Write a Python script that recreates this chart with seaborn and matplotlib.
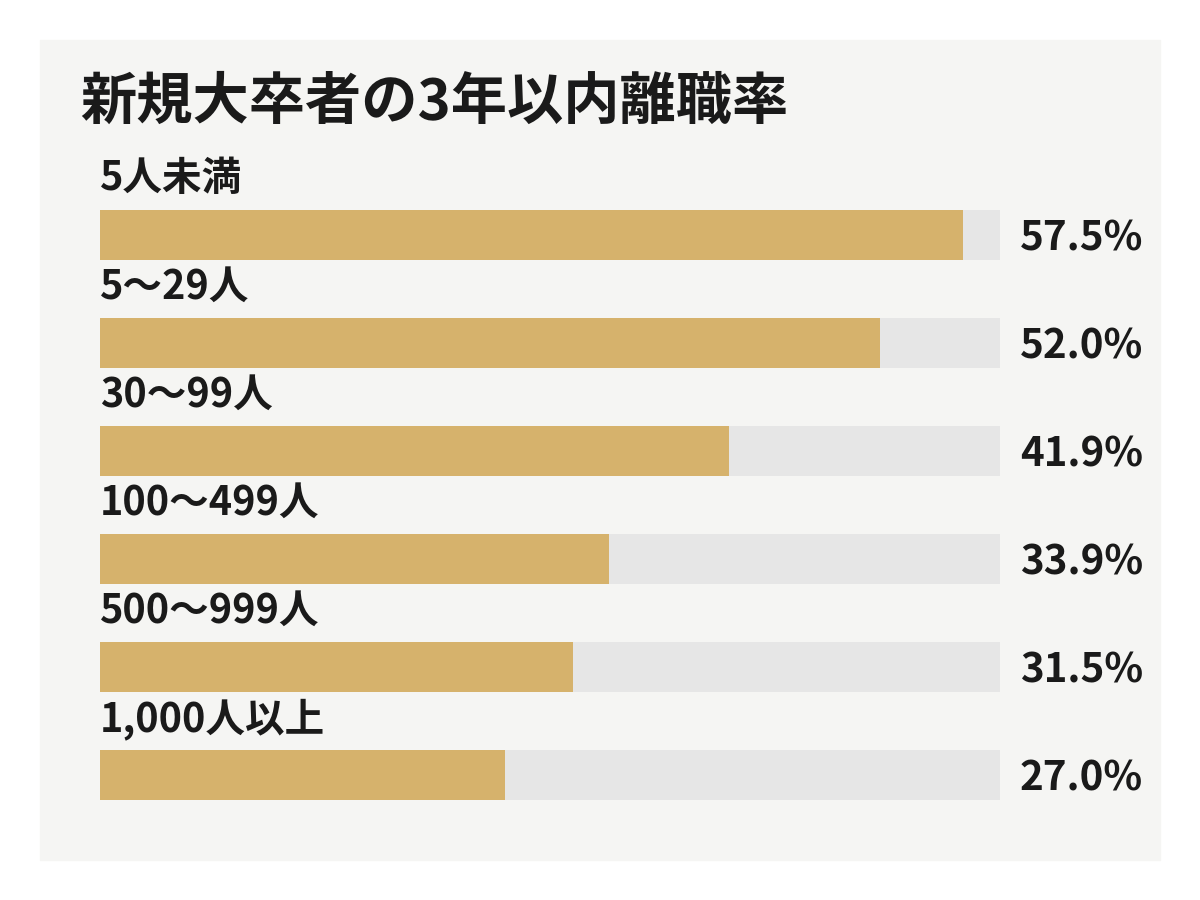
import matplotlib.pyplot as plt
import seaborn as sns
import pandas as pd
from matplotlib.patches import Rectangle

# data
categories = ["5人未満", "5〜29人", "30〜99人", "100〜499人", "500〜999人", "1,000人以上"]
rates = [57.5, 52.0, 41.9, 33.9, 31.5, 27.0]
title = "新規大卒者の3年以内離職率"
scale_max = 60

df = pd.DataFrame({"size": categories, "rate": rates, "track": [scale_max] * len(categories)})

sns.set_theme(style="white")
plt.rcParams["font.family"] = ["Noto Sans CJK JP", "DejaVu Sans"]

fig = plt.figure(figsize=(12, 9), dpi=100)
fig.patch.set_facecolor("white")
# light grey panel behind everything
fig.patches.append(Rectangle((40 / 1200, 40 / 900), 1120 / 1200, 820 / 900,
                             transform=fig.transFigure, color="#F5F5F3", zorder=-10))

ax = fig.add_axes([100 / 1200, 71 / 900, 900 / 1200, 648 / 900])
ax.patch.set_alpha(0)

# grey track then gold value bar
sns.barplot(data=df, x="track", y="size", orient="h", color="#E6E6E6",
            width=50 / 108, saturation=1, linewidth=0, ax=ax)
sns.barplot(data=df, x="rate", y="size", orient="h", color="#D6B26C",
            width=50 / 108, saturation=1, linewidth=0, ax=ax)

ax.set_xlim(0, scale_max)
ax.set_ylim(len(categories) - 0.5, -0.5)
ax.axis("off")

for i, (cat, r) in enumerate(zip(categories, rates)):
    ax.text(0, i - 0.52, cat, ha="left", va="center", fontsize=28.5,
            fontweight="bold", color="#1a1a1a", clip_on=False)
    ax.text(scale_max + 20 / 15, i + 0.035, f"{r:.1f}%", ha="left", va="center",
            fontsize=29, fontweight="bold", color="#1a1a1a", clip_on=False)

fig.text(80 / 1200, 1 - 102 / 900, title, ha="left", va="center",
         fontsize=40.5, fontweight="bold", color="#1a1a1a")

fig.savefig("out.png", dpi=100)
